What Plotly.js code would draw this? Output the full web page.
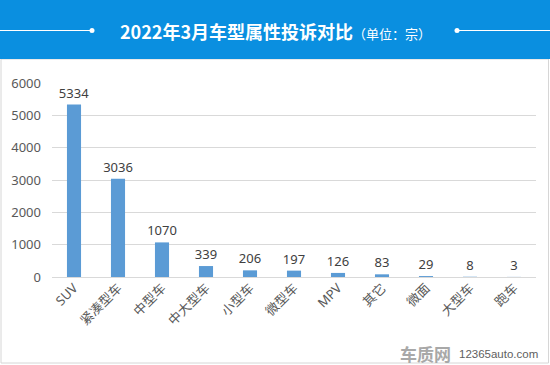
<!DOCTYPE html>
<html>
<head>
<meta charset="utf-8">
<script src="https://cdn.plot.ly/plotly-3.0.1.min.js"></script>
<style>html,body{margin:0;padding:0;background:#fff;}#chart{width:550px;height:365px;}</style>
</head>
<body>
<div id="chart"></div>
<script>
const categories = ["SUV", "紧凑型车", "中型车", "中大型车", "小型车", "微型车", "MPV", "其它", "微面", "大型车", "跑车"];
const complaints = [5334, 3036, 1070, 339, 206, 197, 126, 83, 29, 8, 3];
const yTicks = [0, 1000, 2000, 3000, 4000, 5000, 6000];

const W = 550, H = 365;
const L = 52, R = 536, T = 83, B = 277;
const px = x => (x - L) / (R - L);
const py = y => (B - y) / (B - T);

const FONT = "'Noto Sans', 'Noto Sans CJK SC', sans-serif";

const trace = {
  type: "bar",
  x: categories,
  y: complaints,
  marker: {color: "#5b9bd5"},
  width: 0.32,
  text: complaints.map(String),
  textposition: "outside",
  constraintext: "none",
  cliponaxis: false,
  textfont: {family: FONT, size: 13, color: "#404040"},
  hoverinfo: "x+y"
};

const layout = {
  width: W, height: H,
  margin: {l: L, r: W - R, t: T, b: H - B},
  paper_bgcolor: "#ffffff",
  plot_bgcolor: "#ffffff",
  showlegend: false,
  xaxis: {
    tickangle: -45,
    tickfont: {family: FONT, size: 13, color: "#595959"},
    showgrid: false,
    showline: false,
    ticks: "",
    fixedrange: true
  },
  yaxis: {
    range: [0, 6000],
    tickvals: yTicks,
    ticktext: yTicks.map(String),
    tickfont: {family: FONT, size: 13, color: "#595959"},
    gridcolor: "#d9d9d9",
    gridwidth: 1,
    zeroline: true,
    zerolinecolor: "#d9d9d9",
    zerolinewidth: 1,
    showline: false,
    ticks: "",
    ticklabelstandoff: 10,
    fixedrange: true
  },
  shapes: [
    {type: "rect", xref: "paper", yref: "paper", x0: px(1), x1: px(548.5), y0: py(363), y1: py(59),
     line: {color: "#d6d6d6", width: 1}, fillcolor: "rgba(0,0,0,0)", layer: "below"},
    {type: "rect", xref: "paper", yref: "paper", x0: px(0), x1: px(550), y0: py(59), y1: py(0),
     line: {width: 0}, fillcolor: "#0a8fe0", layer: "above"},
    {type: "line", xref: "paper", yref: "paper", x0: px(0), x1: px(92), y0: py(30.5), y1: py(30.5),
     line: {color: "#ffffff", width: 1.2}, layer: "above"},
    {type: "line", xref: "paper", yref: "paper", x0: px(457), x1: px(550), y0: py(30.5), y1: py(30.5),
     line: {color: "#ffffff", width: 1.2}, layer: "above"},
    {type: "circle", xref: "paper", yref: "paper", x0: px(89.5), x1: px(94.5), y0: py(33), y1: py(28),
     line: {width: 0}, fillcolor: "#ffffff", layer: "above"},
    {type: "circle", xref: "paper", yref: "paper", x0: px(454.5), x1: px(459.5), y0: py(33), y1: py(28),
     line: {width: 0}, fillcolor: "#ffffff", layer: "above"}
  ],
  annotations: [
    {xref: "paper", yref: "paper", x: px(275), y: py(31), xanchor: "center", yanchor: "middle", showarrow: false,
     text: "<b>2022年3月车型属性投诉对比</b><span style='font-size:13px'>（单位：宗）</span>",
     font: {family: "'Noto Sans CJK SC', sans-serif", size: 18, color: "#ffffff"}},
    {xref: "paper", yref: "paper", x: px(453), y: py(353), xanchor: "right", yanchor: "middle", showarrow: false,
     text: "<b>车质网</b>",
     font: {family: "'Noto Sans CJK SC', sans-serif", size: 17, color: "#a8a8a8"}},
    {xref: "paper", yref: "paper", x: px(457), y: py(354), xanchor: "left", yanchor: "middle", showarrow: false,
     text: "12365auto.com",
     font: {family: "'Liberation Sans', Arial, sans-serif", size: 11.5, color: "#606060"}}
  ]
};

Plotly.newPlot("chart", [trace], layout, {displayModeBar: false, staticPlot: true});
</script>
</body>
</html>
